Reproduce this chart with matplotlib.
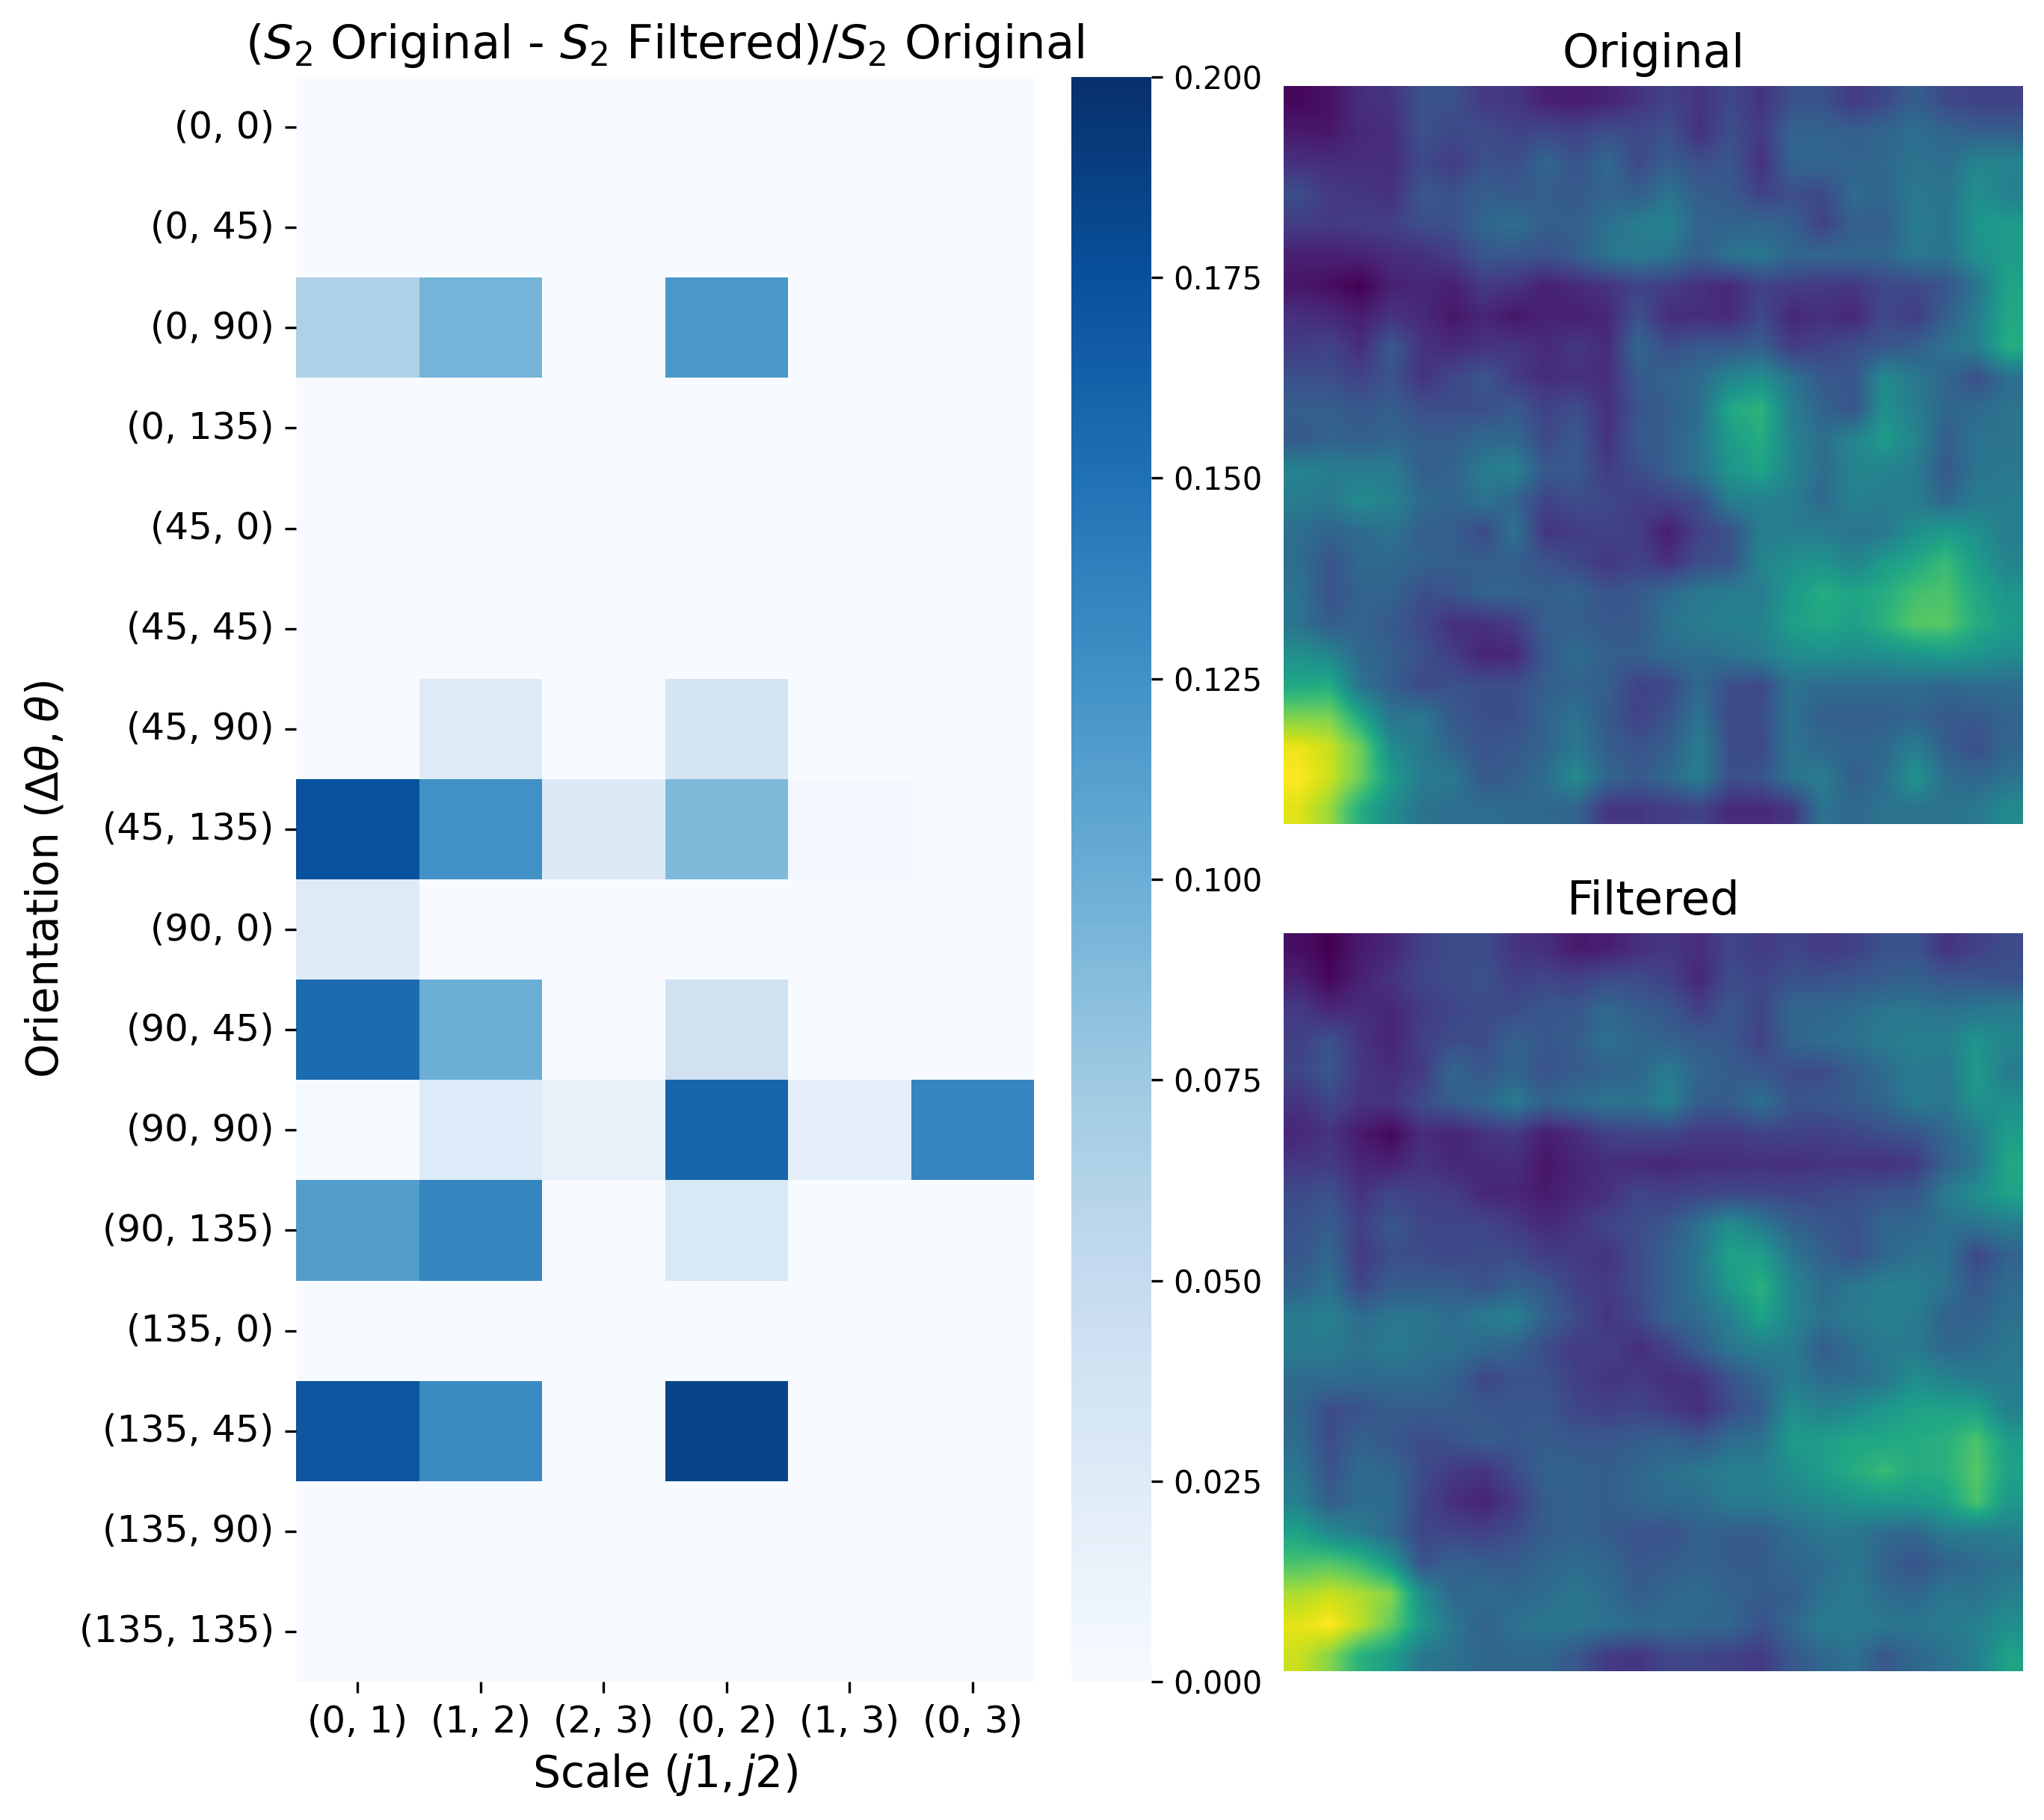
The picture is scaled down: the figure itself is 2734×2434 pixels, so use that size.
import matplotlib
matplotlib.use("Agg")
import matplotlib.pyplot as plt
import numpy as np
import seaborn as sns

scale_labels = ["(0, 1)", "(1, 2)", "(2, 3)", "(0, 2)", "(1, 3)", "(0, 3)"]
orientation_labels = ["(0, 0)", "(0, 45)", "(0, 90)", "(0, 135)",
                      "(45, 0)", "(45, 45)", "(45, 90)", "(45, 135)",
                      "(90, 0)", "(90, 45)", "(90, 90)", "(90, 135)",
                      "(135, 0)", "(135, 45)", "(135, 90)", "(135, 135)"]

# relative S2 difference
s2_diff = [
    [0, 0, 0, 0, 0, 0],
    [0, 0, 0, 0, 0, 0],
    [0.065, 0.095, 0, 0.12, 0, 0],
    [0, 0, 0, 0, 0, 0],
    [0, 0, 0, 0, 0, 0],
    [0, 0, 0, 0, 0, 0],
    [0, 0.025, 0, 0.035, 0, 0],
    [0.175, 0.125, 0.027, 0.09, 0.005, 0],
    [0.025, 0, 0, 0, 0, 0],
    [0.155, 0.1, 0, 0.04, 0, 0],
    [0.002, 0.026, 0.015, 0.16, 0.02, 0.135],
    [0.115, 0.135, 0, 0.03, 0, 0],
    [0, 0, 0, 0, 0, 0],
    [0.17, 0.13, 0, 0.185, 0, 0],
    [0, 0, 0, 0, 0, 0],
    [0, 0, 0, 0, 0, 0],
]

# image brightness on a coarse grid, 0-100 along viridis
original = [
    [2, 5, 13, 15, 25, 25, 17, 16, 9, 8, 10, 15, 20, 15, 22, 15, 25, 25, 17, 22, 30, 22, 20, 20],
    [7, 6, 12, 13, 25, 22, 24, 20, 22, 20, 24, 22, 25, 14, 24, 17, 32, 32, 30, 33, 37, 33, 30, 30],
    [14, 13, 13, 13, 22, 18, 25, 24, 33, 26, 34, 22, 30, 24, 27, 14, 32, 33, 32, 34, 38, 36, 45, 45],
    [24, 17, 16, 14, 27, 25, 30, 28, 30, 28, 32, 30, 38, 30, 28, 20, 24, 22, 35, 33, 40, 38, 50, 43],
    [18, 17, 18, 19, 24, 25, 33, 37, 30, 30, 37, 42, 45, 32, 32, 33, 30, 20, 30, 30, 42, 38, 52, 55],
    [9, 9, 10, 13, 14, 18, 27, 27, 25, 30, 38, 42, 38, 30, 38, 40, 33, 33, 33, 33, 40, 38, 50, 55],
    [6, 4, 0, 9, 11, 9, 17, 15, 9, 12, 15, 20, 18, 14, 12, 20, 18, 17, 16, 22, 22, 26, 38, 58],
    [14, 12, 8, 15, 12, 6, 11, 6, 10, 9, 11, 25, 13, 13, 12, 22, 11, 14, 11, 22, 18, 30, 42, 60],
    [18, 20, 13, 28, 15, 12, 15, 16, 12, 17, 12, 33, 24, 28, 28, 30, 18, 20, 24, 27, 30, 38, 42, 62],
    [25, 24, 20, 26, 15, 21, 27, 18, 13, 14, 13, 28, 32, 35, 45, 50, 38, 28, 27, 48, 40, 33, 24, 36],
    [30, 30, 27, 30, 24, 24, 24, 28, 20, 24, 14, 26, 30, 36, 60, 65, 42, 32, 26, 50, 42, 33, 35, 38],
    [28, 32, 30, 33, 30, 30, 34, 34, 22, 28, 14, 28, 30, 38, 55, 62, 44, 36, 45, 55, 45, 30, 38, 38],
    [45, 42, 42, 42, 30, 32, 42, 44, 28, 28, 18, 24, 30, 38, 52, 58, 45, 35, 45, 45, 42, 28, 38, 40],
    [42, 40, 48, 44, 35, 32, 38, 32, 20, 24, 22, 18, 20, 24, 42, 44, 42, 34, 44, 42, 42, 33, 42, 42],
    [36, 32, 35, 38, 30, 30, 22, 38, 15, 18, 20, 18, 8, 20, 25, 42, 42, 42, 38, 40, 50, 55, 50, 42],
    [36, 26, 34, 34, 32, 30, 30, 30, 26, 22, 16, 20, 14, 24, 26, 45, 50, 52, 45, 55, 60, 68, 55, 45],
    [38, 25, 32, 32, 24, 26, 32, 32, 30, 32, 26, 28, 35, 40, 42, 42, 54, 62, 58, 62, 70, 72, 60, 52],
    [38, 30, 32, 28, 22, 14, 14, 18, 30, 30, 28, 28, 38, 42, 44, 44, 56, 60, 56, 64, 74, 74, 62, 55],
    [50, 45, 34, 30, 25, 18, 10, 11, 28, 36, 30, 30, 35, 36, 38, 42, 48, 50, 48, 50, 52, 55, 52, 48],
    [60, 62, 38, 30, 22, 25, 24, 24, 30, 32, 30, 20, 22, 34, 24, 22, 38, 35, 35, 35, 36, 33, 36, 36],
    [80, 80, 60, 38, 40, 28, 24, 24, 32, 38, 28, 20, 26, 38, 22, 24, 38, 30, 30, 30, 32, 28, 28, 32],
    [97, 92, 78, 48, 40, 32, 26, 28, 32, 40, 30, 26, 30, 42, 24, 22, 38, 34, 32, 34, 42, 30, 24, 33],
    [100, 92, 78, 55, 42, 40, 28, 30, 36, 48, 33, 28, 34, 42, 24, 26, 38, 42, 30, 36, 52, 36, 33, 38],
    [95, 85, 62, 48, 38, 36, 36, 35, 34, 32, 16, 16, 18, 20, 12, 12, 16, 38, 34, 38, 38, 38, 40, 48],
]

filtered = [
    [5, 1, 8, 12, 20, 24, 24, 16, 14, 8, 9, 14, 17, 14, 22, 18, 22, 18, 20, 26, 26, 16, 20, 24],
    [10, 3, 10, 16, 22, 24, 26, 20, 22, 20, 24, 24, 20, 12, 24, 22, 26, 26, 28, 30, 32, 28, 28, 26],
    [18, 12, 14, 12, 18, 22, 24, 24, 28, 28, 35, 30, 28, 20, 28, 22, 34, 34, 36, 40, 40, 38, 40, 42],
    [20, 26, 16, 11, 20, 24, 24, 32, 28, 30, 38, 34, 32, 30, 28, 20, 33, 36, 38, 42, 44, 44, 52, 46],
    [22, 28, 17, 14, 18, 34, 28, 33, 26, 30, 32, 34, 42, 33, 30, 28, 24, 24, 30, 36, 42, 40, 55, 42],
    [16, 22, 16, 16, 24, 30, 34, 42, 32, 36, 40, 38, 45, 30, 30, 38, 27, 28, 30, 34, 42, 40, 52, 50],
    [12, 16, 8, 3, 14, 11, 16, 18, 9, 14, 20, 22, 22, 18, 18, 21, 21, 20, 22, 25, 27, 34, 42, 56],
    [17, 18, 12, 10, 16, 12, 13, 14, 7, 11, 14, 13, 12, 14, 14, 15, 14, 16, 16, 15, 18, 32, 40, 60],
    [24, 26, 16, 22, 20, 19, 12, 12, 8, 12, 15, 22, 20, 22, 23, 23, 22, 23, 25, 27, 28, 42, 50, 58],
    [26, 30, 20, 28, 22, 22, 22, 18, 13, 16, 22, 24, 28, 38, 50, 42, 32, 28, 26, 34, 34, 38, 38, 42],
    [28, 34, 18, 25, 24, 22, 24, 24, 19, 18, 16, 24, 32, 40, 58, 56, 40, 32, 26, 34, 38, 38, 22, 32],
    [32, 38, 22, 30, 30, 30, 26, 32, 28, 20, 18, 24, 32, 40, 54, 64, 46, 36, 40, 44, 44, 38, 28, 36],
    [42, 44, 36, 40, 40, 36, 42, 44, 32, 24, 16, 22, 32, 36, 44, 58, 46, 38, 42, 44, 42, 32, 32, 38],
    [42, 42, 38, 42, 38, 38, 34, 32, 24, 18, 20, 14, 20, 30, 40, 44, 42, 30, 36, 42, 42, 34, 36, 40],
    [36, 36, 35, 36, 36, 32, 22, 26, 26, 20, 16, 18, 14, 16, 26, 34, 42, 36, 36, 40, 50, 45, 42, 42],
    [34, 24, 26, 30, 30, 30, 28, 28, 28, 22, 20, 22, 18, 14, 24, 30, 50, 44, 48, 54, 58, 58, 58, 44],
    [36, 24, 32, 28, 24, 26, 30, 28, 30, 28, 28, 30, 32, 28, 36, 38, 55, 56, 60, 60, 62, 64, 72, 56],
    [40, 26, 36, 34, 24, 18, 16, 24, 32, 32, 30, 34, 38, 40, 44, 44, 50, 56, 62, 68, 62, 64, 74, 58],
    [44, 30, 36, 36, 22, 14, 11, 18, 30, 32, 30, 34, 36, 36, 42, 42, 45, 48, 52, 54, 54, 58, 72, 54],
    [58, 48, 42, 34, 22, 22, 20, 24, 30, 32, 30, 26, 26, 32, 30, 30, 36, 40, 40, 36, 34, 42, 42, 44],
    [72, 74, 68, 54, 26, 32, 30, 30, 34, 36, 34, 28, 30, 32, 30, 30, 34, 36, 40, 32, 26, 32, 36, 38],
    [88, 92, 88, 82, 50, 34, 36, 34, 36, 40, 36, 30, 34, 36, 32, 30, 30, 38, 42, 36, 34, 40, 38, 44],
    [96, 100, 90, 76, 54, 40, 32, 38, 40, 40, 38, 36, 36, 34, 34, 26, 34, 42, 42, 40, 40, 42, 44, 50],
    [92, 82, 64, 56, 40, 38, 34, 34, 34, 28, 18, 16, 22, 22, 20, 18, 28, 34, 38, 28, 34, 38, 44, 58],
]

W, H = 2734, 2434


def axes_px(fig, x0, y0, x1, y1):
    # pixel box measured from the top left of the picture
    return fig.add_axes([x0 / W, 1 - y1 / H, (x1 - x0) / W, (y1 - y0) / H])


fig = plt.figure(figsize=(W / 300, H / 300), dpi=300)

ax = axes_px(fig, 396, 103, 1383, 2249)
cax = axes_px(fig, 1433, 103, 1540, 2249)
sns.heatmap(np.array(s2_diff), ax=ax, cbar_ax=cax, cmap="Blues", vmin=0, vmax=0.2,
            xticklabels=scale_labels, yticklabels=orientation_labels)
ax.set_title(r"($S_2$ Original - $S_2$ Filtered)/$S_2$ Original", fontsize=15)
ax.set_xlabel(r"Scale ($j1, j2$)", fontsize=14)
ax.set_ylabel(r"Orientation ($\Delta\theta, \theta$)", fontsize=14)
ax.tick_params(axis="both", labelsize=12)
plt.setp(ax.get_xticklabels(), rotation=0)
plt.setp(ax.get_yticklabels(), rotation=0)
cax.tick_params(labelsize=10)

ax1 = axes_px(fig, 1717, 115, 2706, 1102)
ax1.imshow(np.array(original), cmap="viridis", interpolation="bilinear", aspect="auto")
ax1.set_title("Original", fontsize=15)
ax1.axis("off")

ax2 = axes_px(fig, 1717, 1248, 2706, 2235)
ax2.imshow(np.array(filtered), cmap="viridis", interpolation="bilinear", aspect="auto")
ax2.set_title("Filtered", fontsize=15)
ax2.axis("off")

fig.savefig("out.png", dpi=300)
